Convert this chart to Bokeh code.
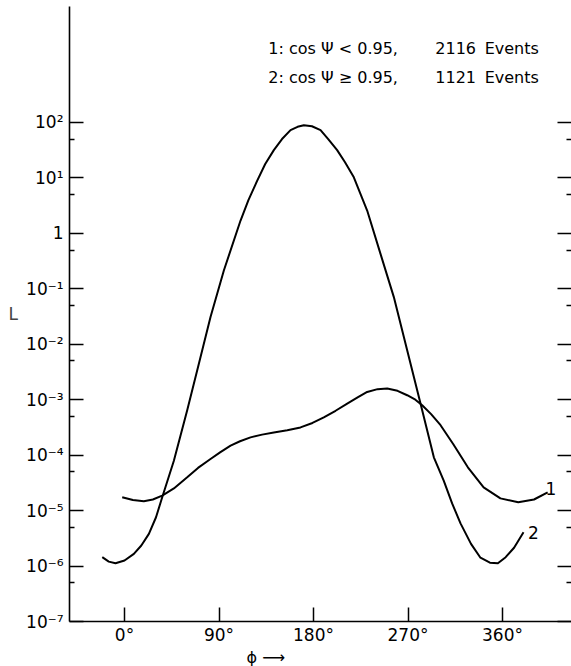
from bokeh.plotting import figure
from bokeh.models import Range1d, FixedTicker, LogAxis, Title
from bokeh.core.properties import value
from bokeh.embed import file_html
from bokeh.resources import INLINE

# ---- data ----
# curve 1: cos psi < 0.95  (phi in degrees, log10 L)
phi_1 = [-2.2, 8, 18.4, 27, 35.9, 47, 59.7, 70, 81.9, 91, 101, 110, 120, 131, 142.2, 155, 167.6,
         179, 189.8, 201, 212.1, 222, 231.1, 241, 250.2, 260, 269.2, 277, 283.5, 292, 301, 313,
         327, 342, 358, 375, 390, 403]
logL_1 = [-4.76, -4.81, -4.83, -4.80, -4.73, -4.60, -4.40, -4.23, -4.07, -3.95, -3.83, -3.75,
          -3.68, -3.63, -3.59, -3.55, -3.50, -3.42, -3.32, -3.20, -3.07, -2.96, -2.86, -2.81,
          -2.80, -2.84, -2.92, -3.00, -3.10, -3.26, -3.46, -3.80, -4.22, -4.58, -4.78, -4.85,
          -4.80, -4.67]

# curve 2: cos psi >= 0.95
phi_2 = [-21.2, -15, -8.6, 0, 8.9, 16, 23.2, 30, 35.9, 47, 59.7, 70.8, 81.9, 94.6, 110.5, 118,
         126.4, 134, 142.2, 150, 158.1, 164.8, 170.8, 178.5, 186.7, 194, 202.5, 210, 218.4, 231.1,
         243.8, 256.5, 269.2, 281.9, 294.6, 304, 312, 320, 330, 339, 348, 355.6, 363, 371, 380]
logL_2 = [-5.84, -5.92, -5.95, -5.90, -5.78, -5.63, -5.42, -5.12, -4.76, -4.10, -3.19, -2.35,
          -1.51, -0.67, 0.23, 0.60, 0.95, 1.25, 1.50, 1.70, 1.86, 1.92, 1.95, 1.93, 1.86, 1.70,
          1.50, 1.28, 1.01, 0.41, -0.37, -1.15, -2.11, -3.07, -4.04, -4.46, -4.87, -5.23, -5.60,
          -5.85, -5.94, -5.95, -5.84, -5.67, -5.39]

L_1 = [10 ** v for v in logL_1]
L_2 = [10 ** v for v in logL_2]

x_ticks = [0, 90, 180, 270, 360]
x_tick_labels = ["0°", "90°", "180°", "270°", "360°"]

y_ticks = [1e-7, 1e-6, 1e-5, 1e-4, 1e-3, 1e-2, 1e-1, 1.0, 1e1, 1e2]
y_tick_labels = ["10⁻⁷", "10⁻⁶", "10⁻⁵", "10⁻⁴", "10⁻³", "10⁻²", "10⁻¹", "1", "10¹", "10²"]
y_minor_ticks = [5e-7, 5e-6, 5e-5, 5e-4, 5e-3, 5e-2, 5e-1, 5.0, 5e1]

legend_line_1 = ["1: cos Ψ < 0.95,", "2116", "Events"]
legend_line_2 = ["2: cos Ψ ≥ 0.95,", "1121", "Events"]
curve_labels = ["1", "2"]
x_title = "ϕ ⟶"
y_title = "L"

FONT = "DejaVu Sans"

p = figure(width=571, height=666,
           x_range=Range1d(-52.4, 425.7), y_range=Range1d(1e-7, 10 ** 4.09),
           y_axis_type="log", output_backend="svg", toolbar_location=None,
           min_border_left=69, min_border_right=0, min_border_top=6, min_border_bottom=45)
p.outline_line_color = None
p.xgrid.visible = False
p.ygrid.visible = False
p.background_fill_color = "white"
p.border_fill_color = "white"

# curves
p.line(phi_1, L_1, line_color="black", line_width=2, line_join="round")
p.line(phi_2, L_2, line_color="black", line_width=2, line_join="round")

# x axis
xa = p.xaxis[0]
xa.ticker = FixedTicker(ticks=x_ticks)
xa.major_label_overrides = dict(zip(x_ticks, x_tick_labels))
xa.major_tick_in = 14
xa.major_tick_out = 0
xa.minor_tick_line_color = None
xa.axis_line_width = 1.6
xa.major_tick_line_width = 1.5
xa.major_label_text_font = FONT
xa.major_label_text_font_size = "17px"
xa.major_label_text_color = "black"
xa.major_label_standoff = 3

# left y axis
ya = p.yaxis[0]
ya.ticker = FixedTicker(ticks=y_ticks, minor_ticks=y_minor_ticks)
ya.major_label_overrides = dict(zip(y_ticks, y_tick_labels))
ya.major_tick_in = 14
ya.major_tick_out = 0
ya.minor_tick_in = 5
ya.minor_tick_out = 0
ya.axis_line_width = 1.6
ya.major_tick_line_width = 1.5
ya.minor_tick_line_width = 1.5
ya.major_label_text_font = FONT
ya.major_label_text_font_size = "17px"
ya.major_label_text_color = "black"
ya.major_label_standoff = 6
ya.axis_label = y_title
ya.axis_label_orientation = "horizontal"
ya.axis_label_text_font = FONT
ya.axis_label_text_font_style = "normal"
ya.axis_label_text_font_size = "17px"
ya.axis_label_standoff = 5

# right ticks without line or labels
ra = LogAxis(ticker=FixedTicker(ticks=y_ticks, minor_ticks=y_minor_ticks),
             axis_line_color=None, major_label_text_font_size="1px",
             major_label_text_color=None,
             major_tick_in=14, major_tick_out=0, minor_tick_in=5, minor_tick_out=0,
             major_tick_line_width=1.5, minor_tick_line_width=1.5,
             major_label_standoff=0)
p.add_layout(ra, "right")

# x title (phi with arrow) below the axis
p.add_layout(Title(text=x_title, align="left", offset=177, standoff=-3,
                   text_font=FONT, text_font_size="16px", text_font_style="normal",
                   text_color="black"), "below")

# legend text
leg_x = [137, 296, 343]
p.text(x=leg_x, y=[10 ** 3.335] * 3, text=legend_line_1, text_font=value(FONT),
       text_font_size="16px", text_baseline="middle", text_align="left", text_color="black")
p.text(x=leg_x, y=[10 ** 2.81] * 3, text=legend_line_2, text_font=value(FONT),
       text_font_size="16px", text_baseline="middle", text_align="left", text_color="black")

# curve labels
p.text(x=[406, 389.5], y=[10 ** -4.6, 10 ** -5.39], text=curve_labels, text_font=value(FONT),
       text_font_size="17px", text_baseline="middle", text_align="center", text_color="black")

open("out.html", "w").write(file_html(p, INLINE))
